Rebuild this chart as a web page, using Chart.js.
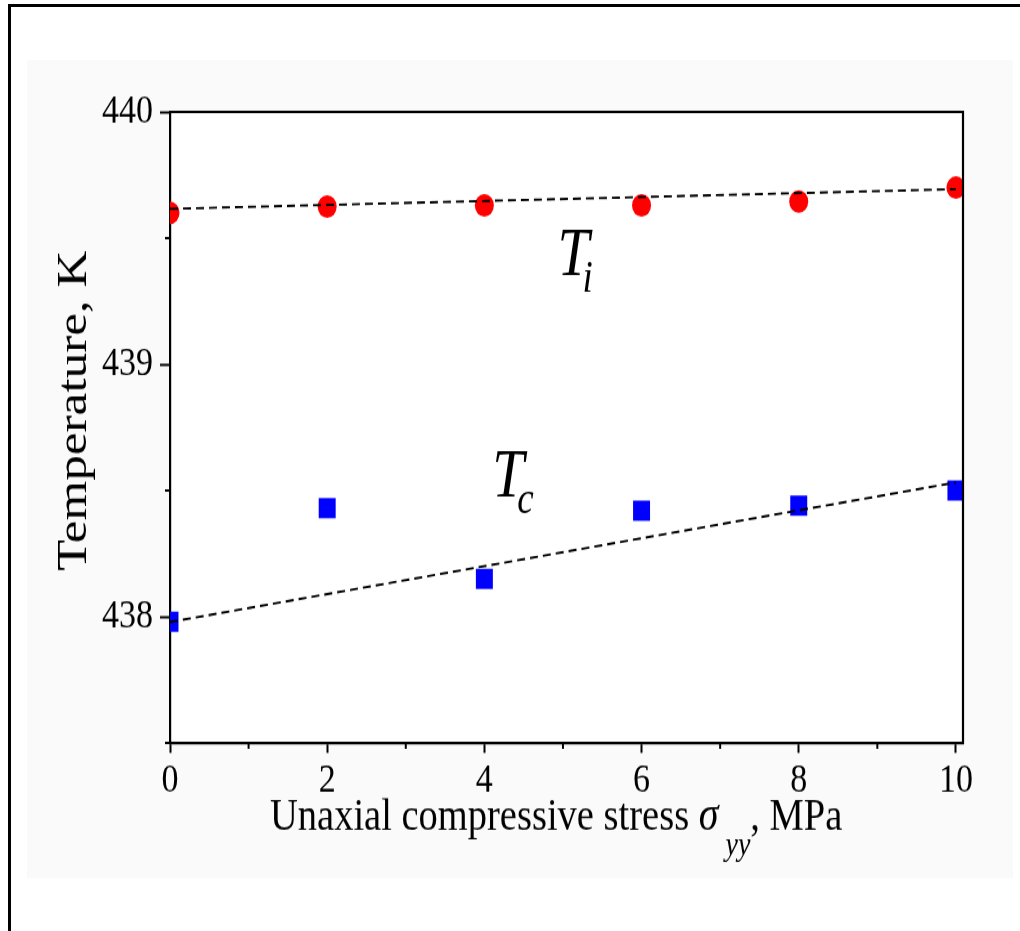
<!DOCTYPE html>
<html>
<head>
<meta charset="utf-8">
<script src="https://cdn.jsdelivr.net/npm/chart.js@4/dist/chart.umd.min.js"></script>
<style>
  html, body { margin: 0; padding: 0; background: #fff; width: 1020px; height: 931px; overflow: hidden; }
  #frame { position: absolute; left: 8px; top: 4px; width: 1100px; height: 1000px;
           border-left: 3px solid #000; border-top: 3px solid #000; }
  #panel { position: absolute; left: 27px; top: 60px; width: 986px; height: 818px; background: #fafafa; }
  #wrap  { position: absolute; left: 0; top: 0; width: 1020px; height: 782px;
           transform: scaleY(1.1905); transform-origin: 0 0; }
</style>
</head>
<body>
<div id="frame"></div>
<div id="panel"></div>
<div id="wrap"><canvas id="chart" width="1020" height="782"></canvas></div>
<script>
// Uniaxial compressive stress, MPa
const stress = [0, 2, 4, 6, 8, 10];
// Temperatures, K
const tempTi = [439.60, 439.625, 439.63, 439.63, 439.645, 439.70];
const tempTc = [437.98, 438.43, 438.15, 438.42, 438.44, 438.50];
// Dashed trend lines (end points)
const fitX = [0, 10];
const fitTi = [439.616, 439.694];
const fitTc = [437.979, 438.532];
// Axis ticks
const xMajorTicks = [0, 2, 4, 6, 8, 10];
const xMinorTicks = [1, 3, 5, 7, 9];
const yMajorTicks = [438, 439, 440];
const yMinorTicks = [437.5, 438.5, 439.5];
// Curve labels, anchored in data coordinates
const labelTi = { main: 'T', sub: 'i', x: 4.93, y: 439.354 };
const labelTc = { main: 'T', sub: 'c', x: 4.10, y: 438.476 };

const SERIF = '"Liberation Serif", "Times New Roman", serif';

const pts = (xs, ys) => xs.map((v, i) => ({ x: v, y: ys[i] }));

const decorations = {
  id: 'decorations',
  beforeDraw(chart) {
    const { ctx, chartArea: a } = chart;
    ctx.save();
    ctx.fillStyle = '#fff';
    ctx.fillRect(a.left, a.top, a.right - a.left, a.bottom - a.top);
    ctx.restore();
  },
  afterDraw(chart) {
    const { ctx, chartArea: a, scales: { x, y } } = chart;
    ctx.save();
    ctx.strokeStyle = '#000';
    // top and right frame
    ctx.lineWidth = 2.2;
    ctx.beginPath();
    ctx.moveTo(a.left - 1, a.top);
    ctx.lineTo(a.right, a.top);
    ctx.lineTo(a.right, a.bottom + 1);
    ctx.stroke();
    // minor ticks
    ctx.lineWidth = 2;
    xMinorTicks.forEach(v => {
      const px = x.getPixelForValue(v);
      ctx.beginPath(); ctx.moveTo(px, a.bottom); ctx.lineTo(px, a.bottom + 5); ctx.stroke();
    });
    yMinorTicks.forEach(v => {
      const py = y.getPixelForValue(v);
      ctx.beginPath(); ctx.moveTo(a.left, py); ctx.lineTo(a.left - 5, py); ctx.stroke();
    });

    ctx.fillStyle = '#000';
    // curve labels
    [labelTi, labelTc].forEach(l => {
      const px = x.getPixelForValue(l.x), py = y.getPixelForValue(l.y);
      ctx.textAlign = 'left'; ctx.textBaseline = 'alphabetic';
      ctx.font = 'italic 57px ' + SERIF;
      ctx.fillText(l.main, px, py);
      ctx.font = 'italic 37px ' + SERIF;
      ctx.fillText(l.sub, px + 25, py + 14);
    });

    // y axis title
    ctx.save();
    ctx.translate(86, 345);
    ctx.rotate(-Math.PI / 2);
    ctx.textAlign = 'center';
    ctx.textBaseline = 'alphabetic';
    ctx.font = '43px ' + SERIF;
    ctx.fillText('Temperature, K', 0, 0);
    ctx.restore();

    // x axis title with subscript
    let tx = 270;
    const base = 697;
    ctx.textAlign = 'left';
    ctx.textBaseline = 'alphabetic';
    ctx.font = '38.5px ' + SERIF;
    const part1 = 'Unaxial compressive stress ';
    ctx.fillText(part1, tx, base);
    tx += ctx.measureText(part1).width;
    ctx.font = 'italic 40px ' + SERIF;
    ctx.fillText('\u03C3', tx, base);
    tx += ctx.measureText('\u03C3').width + 7;
    ctx.font = 'italic 28px ' + SERIF;
    ctx.fillText('yy', tx, base + 21);
    tx += ctx.measureText('yy').width;
    ctx.font = '38.5px ' + SERIF;
    ctx.fillText(', MPa', tx, base);
    ctx.restore();
  }
};

new Chart(document.getElementById('chart'), {
  type: 'scatter',
  data: {
    datasets: [
      { label: 'Ti trend', data: pts(fitX, fitTi), showLine: true, borderColor: '#000',
        borderWidth: 1.9, borderDash: [8, 5], pointRadius: 0, pointHoverRadius: 0, fill: false },
      { label: 'Tc trend', data: pts(fitX, fitTc), showLine: true, borderColor: '#000',
        borderWidth: 1.9, borderDash: [8, 5], pointRadius: 0, pointHoverRadius: 0, fill: false },
      { label: 'Ti', data: pts(stress, tempTi), pointStyle: 'circle', pointRadius: 9.5,
        pointHoverRadius: 9.5, backgroundColor: '#ff0000', pointBorderWidth: 0, borderWidth: 0, clip: 0 },
      { label: 'Tc', data: pts(stress, tempTc), pointStyle: 'rect', pointRadius: 12,
        pointHoverRadius: 12, backgroundColor: '#0000ff', pointBorderWidth: 0, borderWidth: 0, clip: 0 }
    ]
  },
  options: {
    responsive: false,
    animation: false,
    events: [],
    layout: { padding: { left: 0, right: 57, top: 94, bottom: 0 } },
    plugins: { legend: { display: false }, tooltip: { enabled: false } },
    scales: {
      x: {
        type: 'linear', min: 0, max: 10.09,
        afterBuildTicks: s => { s.ticks = xMajorTicks.map(v => ({ value: v })); },
        afterFit: s => { s.height = 158; },
        grid: { display: true, drawOnChartArea: false, drawTicks: true, tickLength: 8.4, tickWidth: 2, tickColor: '#000' },
        border: { display: true, color: '#000', width: 2.2 },
        ticks: { color: '#000', font: { family: SERIF, size: 34 }, padding: 3, maxRotation: 0, autoSkip: false }
      },
      y: {
        type: 'linear', min: 437.5, max: 440,
        afterBuildTicks: s => { s.ticks = yMajorTicks.map(v => ({ value: v })); },
        afterFit: s => { s.width = 170; },
        grid: { display: true, drawOnChartArea: false, drawTicks: true, tickLength: 10, tickWidth: 2, tickColor: '#000' },
        border: { display: true, color: '#000', width: 2.2 },
        ticks: { color: '#000', font: { family: SERIF, size: 34 }, padding: 7, autoSkip: false }
      }
    }
  },
  plugins: [decorations]
});
</script>
</body>
</html>
